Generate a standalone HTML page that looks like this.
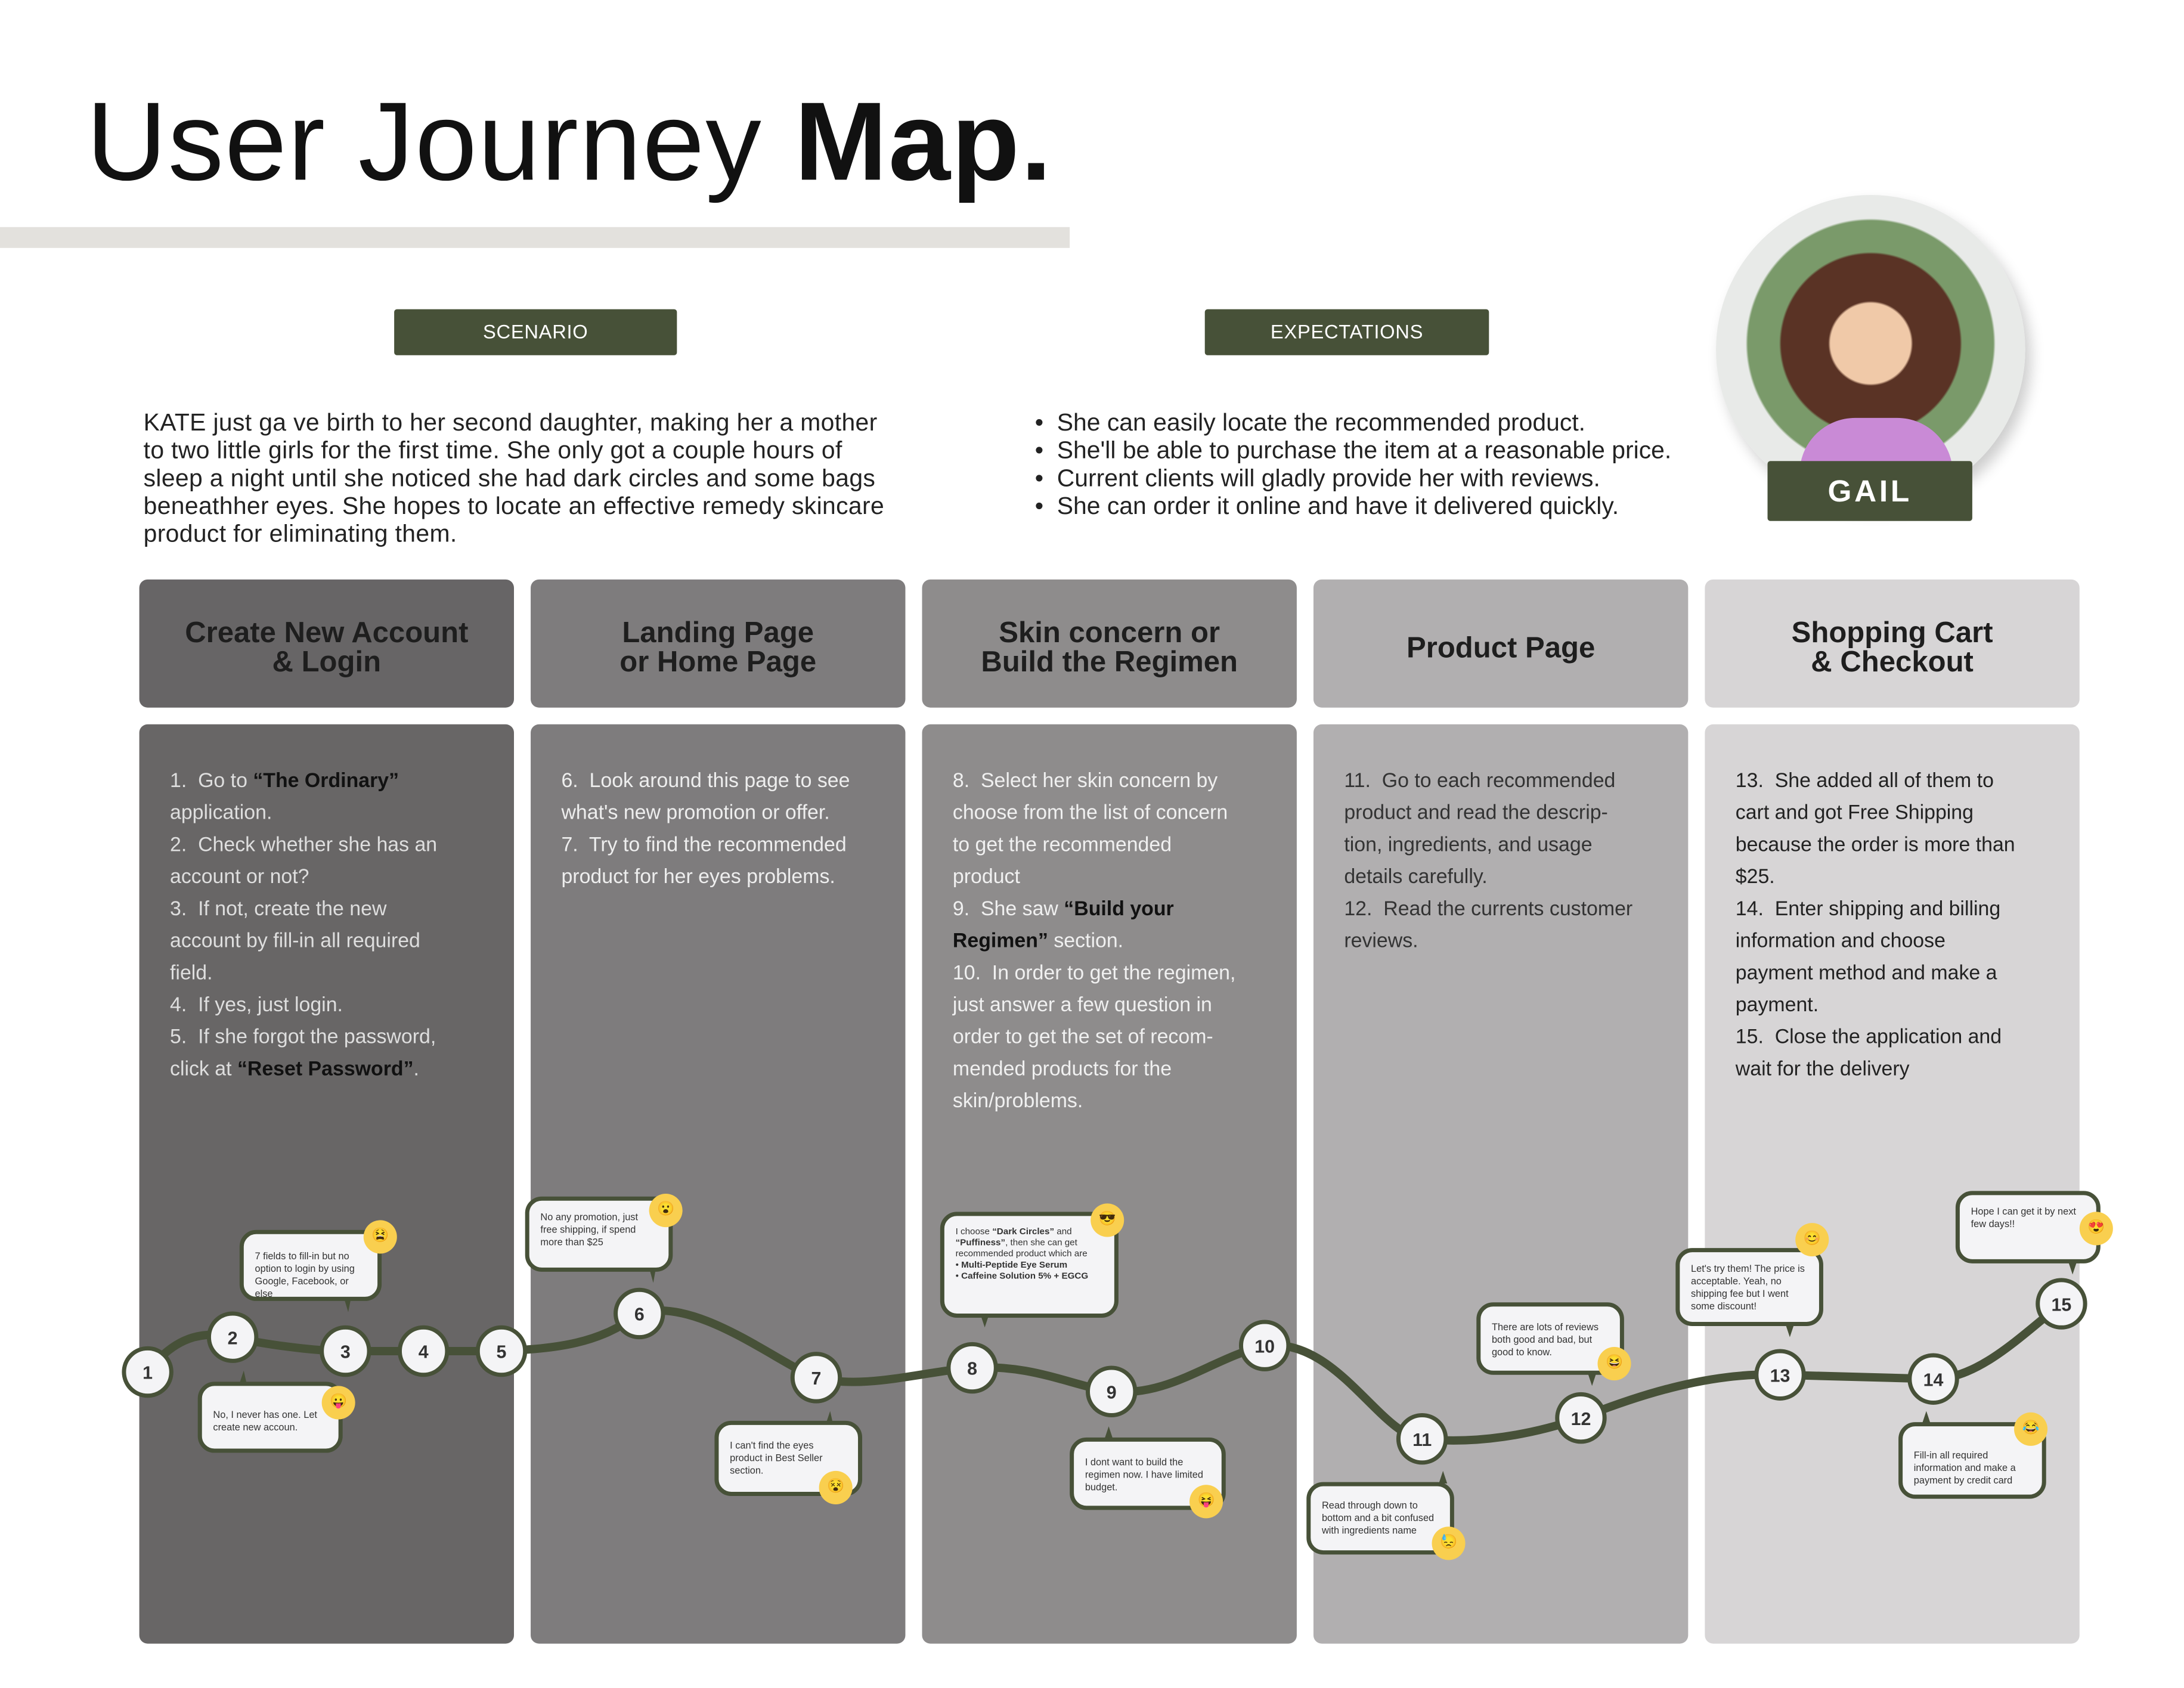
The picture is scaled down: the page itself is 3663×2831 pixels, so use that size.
<!DOCTYPE html>
<html><head><meta charset="utf-8"><style>
body{margin:0;background:#fff;}
#w{width:3663px;height:2831px;overflow:hidden;position:relative;background:#fff}
#s{position:absolute;left:0;top:0;width:1568px;height:1212px;transform:scale(2.3361);transform-origin:0 0;font-family:"Liberation Sans",sans-serif;color:#222}
.a{position:absolute}
.tag{position:absolute;background:#475138;color:#fff;font-size:14px;text-align:center;line-height:33px;height:33px;border-radius:2px;letter-spacing:.3px}
.hd{position:absolute;top:416px;width:269px;height:92px;border-radius:6px;font-weight:bold;font-size:21px;text-align:center;display:flex;align-items:center;justify-content:center;line-height:21px;color:#1e1e1e;padding-top:6px;box-sizing:border-box}
.bd{position:absolute;top:520px;width:269px;height:660px;border-radius:6px;font-size:14.5px;line-height:23px;padding:30px 38px 0 22px;box-sizing:border-box}
.bub{position:absolute;background:#f4f4f6;border:3px solid #475138;border-radius:12px;font-size:7px;line-height:9px;padding:8px 8px;box-sizing:border-box;color:#333}
.em{position:absolute;width:24px;height:24px;border-radius:50%;background:#f9cf4f;font-size:10px;text-align:center;line-height:24px}
</style></head><body><div id="w"><div id="s">
<div class="a" style="left:62px;top:56px;font-size:80px;letter-spacing:0.8px;color:#111">User Journey <b>Map.</b></div>
<div class="a" style="left:0;top:163px;width:768px;height:15px;background:#e3e1dd"></div>
<div class="tag" style="left:283px;top:222px;width:203px">SCENARIO</div>
<div class="tag" style="left:865px;top:222px;width:204px">EXPECTATIONS</div>
<div class="a" style="left:103px;top:293px;width:560px;font-size:17.5px;line-height:20px;color:#222;letter-spacing:.15px">KATE just ga ve birth to her second daughter, making her a mother<br>to two little girls for the first time. She only got a couple hours of<br>sleep a night until she noticed she had dark circles and some bags<br>beneathher eyes. She hopes to locate an effective remedy skincare<br>product for eliminating them.</div>
<div class="a" style="left:743px;top:293px;width:500px;font-size:17.5px;line-height:20px;color:#222">•&nbsp; She can easily locate the recommended product.<br>•&nbsp; She'll be able to purchase the item at a reasonable price.<br>•&nbsp; Current clients will gladly provide her with reviews.<br>•&nbsp; She can order it online and have it delivered quickly.</div>
<div class="a" style="left:1232px;top:140px;width:222px;height:222px;border-radius:50%;background:radial-gradient(circle at 50% 48%,#f0c9a8 0 18%,#5a3325 19% 40%,#7a9a6a 41% 55%,#e8eae8 56%);box-shadow:4px 6px 10px rgba(0,0,0,.2);overflow:hidden"><div class="a" style="left:60px;top:160px;width:110px;height:70px;background:#c98ad6;border-radius:40px 40px 0 0"></div></div>
<div class="tag" style="left:1269px;top:331px;width:147px;height:43px;line-height:43px;font-size:22px;font-weight:bold;letter-spacing:2px">GAIL</div>

<div class="hd" style="left:100px;background:#676566">Create New Account<br>&amp; Login</div>
<div class="hd" style="left:381px;background:#7e7c7d">Landing Page<br>or Home Page</div>
<div class="hd" style="left:662px;background:#8e8c8c">Skin concern or<br>Build the Regimen</div>
<div class="hd" style="left:943px;background:#b1afb0">Product Page</div>
<div class="hd" style="left:1224px;background:#d7d5d6">Shopping Cart<br>&amp; Checkout</div>

<div class="bd" style="left:100px;background:#686666;color:#dedede">1.&nbsp; Go to <b style="color:#111">“The Ordinary”</b> application.<br>2.&nbsp; Check whether she has an account or not?<br>3.&nbsp; If not, create the new account by fill-in all required field.<br>4.&nbsp; If yes, just login.<br>5.&nbsp; If she forgot the password, click at <b style="color:#111">“Reset Password”</b>.</div>
<div class="bd" style="left:381px;background:#7e7c7d;color:#eee">6.&nbsp; Look around this page to see what's new promotion or offer.<br>7.&nbsp; Try to find the recommended product for her eyes problems.</div>
<div class="bd" style="left:662px;background:#8e8c8c;color:#f0f0f0">8.&nbsp; Select her skin concern by choose from the list of concern to get the recommended product<br>9.&nbsp; She saw <b style="color:#111">“Build your Regimen”</b> section.<br>10.&nbsp; In order to get the regimen, just answer a few question in order to get the set of recom-mended products for the skin/problems.</div>
<div class="bd" style="left:943px;background:#b1afb0;color:#333">11.&nbsp; Go to each recommended product and read the descrip-tion, ingredients, and usage details carefully.<br>12.&nbsp; Read the currents customer reviews.</div>
<div class="bd" style="left:1224px;background:#d7d5d6;color:#222">13.&nbsp; She added all of them to cart and got Free Shipping because the order is more than $25.<br>14.&nbsp; Enter shipping and billing information and choose payment method and make a payment.<br>15.&nbsp; Close the application and wait for the delivery</div>

<svg class="a" style="left:0;top:0" width="1568" height="1212">
<path d="M106,985 C125,960 145,955 167,960 S225,970 248,970 L360,970 C400,968 430,965 459,943 C500,930 560,980 586,989 C620,998 660,985 698,982 C740,979 770,995 798,999 C840,1003 870,975 908,966 C960,960 990,1030 1021,1033 C1060,1037 1100,1030 1135,1018 C1180,1000 1230,985 1278,987 L1388,990 C1420,990 1450,960 1480,936" fill="none" stroke="#475138" stroke-width="6"/>
<g fill="#f4f4f6" stroke="#475138" stroke-width="3">
<circle cx="106" cy="985" r="17"/><circle cx="167" cy="960" r="17"/><circle cx="248" cy="970" r="17"/><circle cx="304" cy="970" r="17"/><circle cx="360" cy="970" r="17"/><circle cx="459" cy="943" r="17"/><circle cx="586" cy="989" r="17"/><circle cx="698" cy="982" r="17"/><circle cx="798" cy="999" r="17"/><circle cx="908" cy="966" r="17"/><circle cx="1021" cy="1033" r="17"/><circle cx="1135" cy="1018" r="17"/><circle cx="1278" cy="987" r="17"/><circle cx="1388" cy="990" r="17"/><circle cx="1480" cy="936" r="17"/>
</g>
<g fill="#333" font-family="Liberation Sans" font-weight="bold" font-size="13" text-anchor="middle">
<text x="106" y="990">1</text><text x="167" y="965">2</text><text x="248" y="975">3</text><text x="304" y="975">4</text><text x="360" y="975">5</text><text x="459" y="948">6</text><text x="586" y="994">7</text><text x="698" y="987">8</text><text x="798" y="1004">9</text><text x="908" y="971">10</text><text x="1021" y="1038">11</text><text x="1135" y="1023">12</text><text x="1278" y="992">13</text><text x="1388" y="995">14</text><text x="1480" y="941">15</text>
</g>
<g fill="#475138">
<path d="M247,932 l5,0 l-2,10z"/><path d="M172,993 l5,0 l-2,-9z"/><path d="M466,910 l5,0 l-2,11z"/><path d="M593,1022 l5,0 l-2,-9z"/><path d="M704,944 l6,0 l-3,9z"/><path d="M793,1033 l6,0 l-3,-9z"/><path d="M1033,1065 l6,0 l-3,-9z"/><path d="M1140,986 l6,0 l-3,9z"/><path d="M1282,951 l6,0 l-3,9z"/><path d="M1380,1022 l6,0 l-3,-9z"/><path d="M1485,906 l6,0 l-3,9z"/>
</g>
</svg>

<div class="bub" style="left:172px;top:883px;width:102px;height:51px;padding-top:12px">7 fields to fill-in but no option to login by using Google, Facebook, or else</div><div class="em" style="left:261px;top:876px">😫</div>
<div class="bub" style="left:142px;top:992px;width:104px;height:51px;padding-top:17px">No, I never has one. Let create new accoun.</div><div class="em" style="left:231px;top:995px">😛</div>
<div class="bub" style="left:377px;top:859px;width:106px;height:54px">No any promotion, just free shipping, if spend more than $25</div><div class="em" style="left:466px;top:857px">😮</div>
<div class="bub" style="left:513px;top:1020px;width:106px;height:54px;padding-top:11px">I can't find the eyes product in Best Seller section.</div><div class="em" style="left:588px;top:1056px">😵</div>
<div class="bub" style="left:675px;top:870px;width:128px;height:76px;font-size:6.5px;line-height:8px">I choose <b>“Dark Circles”</b> and <b>“Puffiness”</b>, then she can get recommended product which are<br>• <b>Multi-Peptide Eye Serum</b><br>• <b>Caffeine Solution 5% + EGCG</b></div><div class="em" style="left:783px;top:864px">😎</div>
<div class="bub" style="left:768px;top:1032px;width:112px;height:52px;padding-top:11px">I dont want to build the regimen now. I have limited budget.</div><div class="em" style="left:854px;top:1066px">😝</div>
<div class="bub" style="left:938px;top:1064px;width:106px;height:52px;padding-top:10px">Read through down to bottom and a bit confused with ingredients name</div><div class="em" style="left:1028px;top:1096px">😓</div>
<div class="bub" style="left:1060px;top:935px;width:106px;height:52px;padding-top:11px">There are lots of reviews both good and bad, but good to know.</div><div class="em" style="left:1147px;top:967px">😆</div>
<div class="bub" style="left:1203px;top:896px;width:106px;height:56px">Let's try them! The price is acceptable. Yeah, no shipping fee but I went some discount!</div><div class="em" style="left:1289px;top:878px">😊</div>
<div class="bub" style="left:1363px;top:1021px;width:106px;height:55px;padding-top:17px">Fill-in all required information and make a payment by credit card</div><div class="em" style="left:1446px;top:1014px">😂</div>
<div class="bub" style="left:1404px;top:855px;width:104px;height:52px">Hope I can get it by next few days!!</div><div class="em" style="left:1493px;top:870px">😍</div>
</div></div></body></html>
